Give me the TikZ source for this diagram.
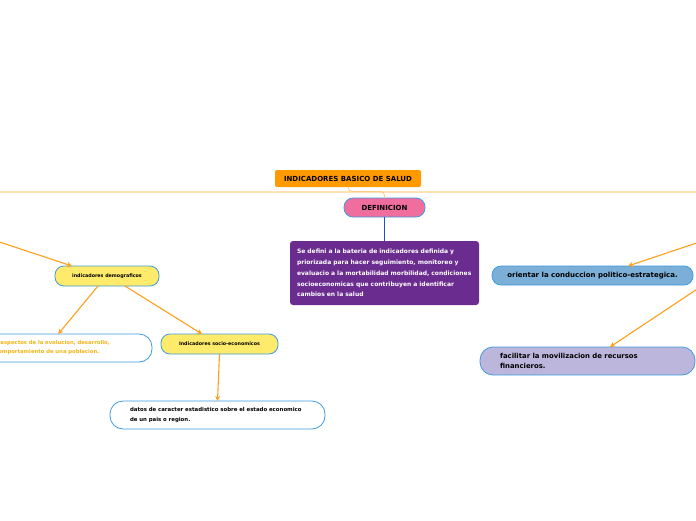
\documentclass[tikz,border=0pt]{standalone}
\usepackage{fontspec}
\setmainfont{DejaVu Sans}
\usetikzlibrary{arrows.meta}
\definecolor{torange}{HTML}{FF9A00}
\definecolor{tpink}{HTML}{F06E9E}
\definecolor{tblue}{HTML}{3D9BE0}
\definecolor{tpurple}{HTML}{6A2C8F}
\definecolor{tyellow}{HTML}{FFEB6B}
\definecolor{tsky}{HTML}{7BAFD7}
\definecolor{tlav}{HTML}{BCB6DC}
\definecolor{arrowor}{HTML}{FF9E1B}
\definecolor{hline}{HTML}{FFE2B3}
\definecolor{hconn}{HTML}{FFCB80}
\definecolor{gold}{HTML}{F4B512}
\definecolor{dblue}{HTML}{1A4FCF}
\tikzset{
  every node/.style={inner sep=0pt, outer sep=0pt, font=\bfseries},
  titlebox/.style={fill=torange, rounded corners=2pt, minimum width=146pt, minimum height=17pt, font=\bfseries\fontsize{7}{8}\selectfont},
  defbox/.style={fill=tpink, draw=tblue, line width=0.8pt, rounded corners=9pt, minimum width=81pt, minimum height=19pt, font=\bfseries\fontsize{7}{8}\selectfont},
  purplebox/.style={fill=tpurple, rounded corners=3pt, minimum width=189pt, minimum height=64pt, text=white, text width=175pt, align=left, font=\bfseries\fontsize{6}{10.8}\selectfont},
  ybox/.style={fill=tyellow, draw=tblue, line width=0.8pt, rounded corners=9pt, minimum height=20pt, font=\bfseries\fontsize{4.8}{6}\selectfont},
  wbox/.style={fill=white, draw=tblue, line width=0.8pt, rounded corners=13pt, minimum height=28pt, align=left, inner xsep=20pt, font=\bfseries\fontsize{5.4}{10}\selectfont},
  skybox/.style={fill=tsky, draw=tblue, line width=0.8pt, rounded corners=9pt, minimum width=201pt, minimum height=19pt, font=\bfseries\fontsize{7}{8}\selectfont},
  lavbox/.style={fill=tlav, draw=tblue, line width=0.8pt, rounded corners=13pt, minimum height=28pt, align=left, inner xsep=20pt, font=\bfseries\fontsize{6.9}{10}\selectfont},
  conn/.style={draw=arrowor, line width=1.1pt, -{Stealth[length=5pt,width=5pt]}}
}
\begin{document}
\begin{tikzpicture}[x=1pt,y=-1pt]
\useasboundingbox (0,0) rectangle (696,520);
% horizontal band
\coordinate (hl) at (0,191.5);
\coordinate (hr) at (696,191.5);
\draw[hline, line width=2pt] (hl) -- (hr);
% nodes
\node[titlebox] (title) at (348,178.5) {INDICADORES BASICO DE SALUD};
\node[defbox] (def) at (384.5,207.5) {DEFINICION};
\node[purplebox] (pur) at (384.5,273) { Se defini a la bateria de indicadores definida y\\priorizada para hacer seguimiento, monitoreo y\\evaluacio a la mortabilidad morbilidad, condiciones\\socioeconomicas que contribuyen a identificar\\cambios en la salud};
\node[ybox, minimum width=104pt] (dem) at (107,276) {indicadores demograficos};
\node[ybox, minimum width=117pt] (soc) at (219.5,344) {Indicadores socio-economicos};
\node[wbox, minimum width=171.5pt, text width=131.5pt, text=gold, font=\bfseries\fontsize{5.3}{9}\selectfont] (asp) at (66.25,348) {aspectos de la evolucion, desarrollo,\\\hspace*{-5.3pt}comportamiento de una poblacion.};
\node[wbox, minimum width=215pt, text width=175pt] (dat) at (217.5,415) {datos de caracter estadistico sobre el estado economico\\de un pais o region.};
\node[skybox] (ori) at (592.5,275.5) {orientar la conduccion politico-estrategica.};
\node[lavbox, minimum width=215pt, text width=175pt] (fac) at (587.5,361) {facilitar la movilizacion de recursos\\financieros.};
% connectors
\draw[hconn, line width=0.8pt, rounded corners=4pt] (title.south) -- ++(0,4.5) -| (def.north);
\draw[dblue, line width=1.2pt] (def.south) -- (pur.north);
\coordinate (lin) at (-2,241.5);
\coordinate (rin1) at (698,242.5);
\coordinate (rin2) at (698,288.5);
\draw[conn] (lin) -- ([xshift=-35pt]dem.north);
\draw[conn] ([xshift=-9pt]dem.south) -- ([xshift=-8pt]asp.north);
\draw[conn] ([xshift=18pt]dem.south) -- ([xshift=-17.5pt]soc.north);
\draw[conn] (soc.south) -- (dat.north);
\draw[conn] (rin1) -- ([xshift=35.5pt]ori.north);
\draw[conn] (rin2) -- ([xshift=22.5pt]fac.north);
\end{tikzpicture}
\end{document}
